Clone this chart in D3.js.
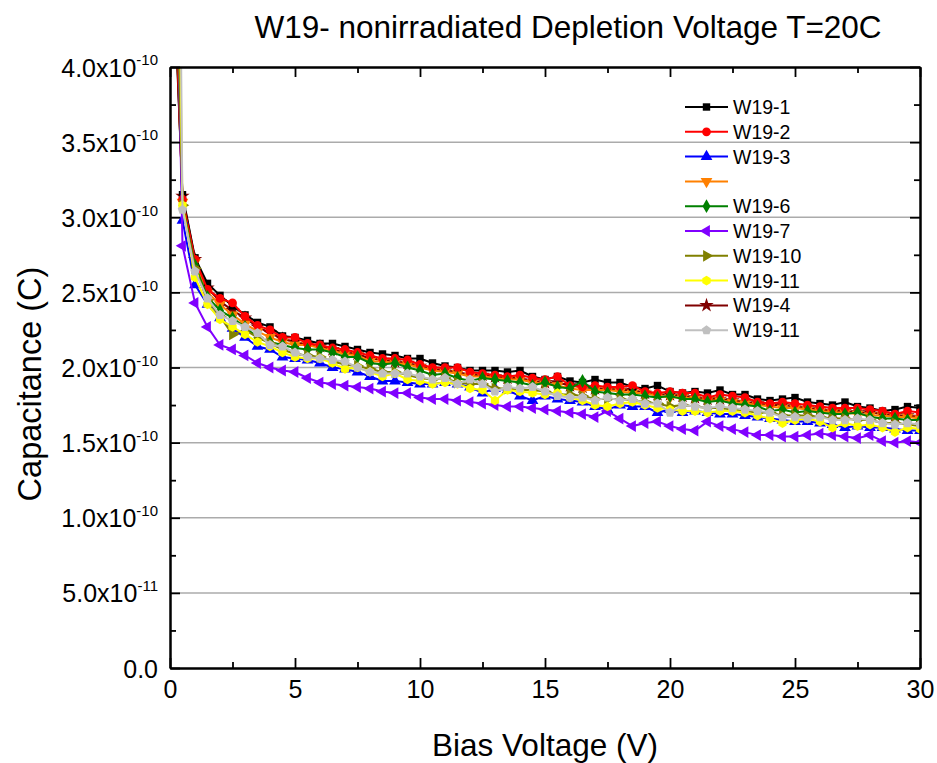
<!DOCTYPE html>
<html>
<head>
<meta charset="utf-8">
<script src="https://cdn.jsdelivr.net/npm/d3@7"></script>
<style>
  body { margin: 0; background: #fff; }
  text { font-family: "Liberation Sans", Arial, sans-serif; fill: #000; }
</style>
</head>
<body>
<div id="chart"></div>
<script>
// bias voltage (V)
const voltages = [0, 0.5, 1, 1.5, 2, 2.5, 3, 3.5, 4, 4.5,
  5, 5.5, 6, 6.5, 7, 7.5, 8, 8.5, 9, 9.5,
  10, 10.5, 11, 11.5, 12, 12.5, 13, 13.5, 14, 14.5,
  15, 15.5, 16, 16.5, 17, 17.5, 18, 18.5, 19, 19.5,
  20, 20.5, 21, 21.5, 22, 22.5, 23, 23.5, 24, 24.5,
  25, 25.5, 26, 26.5, 27, 27.5, 28, 28.5, 29, 29.5,
  30]

// capacitance, in units of 1e-10
const unit = 1e-10
const w19_1 = [5.2, 3.15, 2.73, 2.56, 2.48, 2.41, 2.35, 2.30, 2.27, 2.21,
  2.20, 2.18, 2.16, 2.16, 2.14, 2.12, 2.10, 2.09, 2.08, 2.06,
  2.06, 2.03, 2.01, 2.00, 1.98, 1.98, 1.98, 1.97, 1.98, 1.94,
  1.92, 1.94, 1.91, 1.90, 1.92, 1.90, 1.90, 1.87, 1.86, 1.88,
  1.84, 1.83, 1.84, 1.83, 1.85, 1.82, 1.82, 1.79, 1.78, 1.79,
  1.80, 1.77, 1.76, 1.75, 1.77, 1.74, 1.73, 1.71, 1.72, 1.74,
  1.73]
const w19_2 = [5.4, 3.12, 2.72, 2.52, 2.46, 2.43, 2.34, 2.28, 2.25, 2.20,
  2.20, 2.16, 2.15, 2.13, 2.12, 2.10, 2.08, 2.06, 2.06, 2.05,
  2.02, 2.00, 2.00, 2.00, 1.97, 1.96, 1.95, 1.94, 1.95, 1.93,
  1.92, 1.94, 1.88, 1.87, 1.88, 1.87, 1.87, 1.88, 1.84, 1.83,
  1.84, 1.83, 1.83, 1.80, 1.82, 1.81, 1.80, 1.77, 1.76, 1.77,
  1.76, 1.75, 1.74, 1.73, 1.73, 1.73, 1.72, 1.71, 1.69, 1.71,
  1.70]
const w19_3 = [7.0, 2.98, 2.55, 2.42, 2.33, 2.26, 2.20, 2.14, 2.12, 2.07,
  2.06, 2.05, 2.03, 2.00, 1.99, 1.97, 1.94, 1.91, 1.91, 1.90,
  1.89, 1.89, 1.90, 1.89, 1.87, 1.83, 1.86, 1.85, 1.81, 1.78,
  1.81, 1.79, 1.78, 1.77, 1.74, 1.72, 1.75, 1.74, 1.74, 1.70,
  1.72, 1.70, 1.71, 1.70, 1.69, 1.69, 1.68, 1.67, 1.66, 1.65,
  1.64, 1.64, 1.63, 1.62, 1.60, 1.61, 1.60, 1.60, 1.59, 1.58,
  1.58]
const w19_orange = [5.6, 3.10, 2.70, 2.50, 2.42, 2.35, 2.29, 2.24, 2.20, 2.17,
  2.15, 2.15, 2.13, 2.11, 2.09, 2.08, 2.04, 2.04, 2.03, 2.02,
  2.00, 1.98, 1.97, 1.96, 1.94, 1.94, 1.93, 1.92, 1.92, 1.90,
  1.89, 1.88, 1.86, 1.85, 1.85, 1.85, 1.84, 1.83, 1.83, 1.81,
  1.80, 1.80, 1.79, 1.78, 1.78, 1.77, 1.76, 1.75, 1.74, 1.73,
  1.73, 1.72, 1.71, 1.70, 1.70, 1.69, 1.68, 1.68, 1.67, 1.67,
  1.66]
const w19_6 = [6.0, 3.08, 2.68, 2.47, 2.38, 2.33, 2.27, 2.20, 2.17, 2.15,
  2.13, 2.12, 2.12, 2.10, 2.07, 2.07, 2.03, 2.02, 2.03, 2.00,
  1.98, 1.95, 1.96, 1.93, 1.91, 1.93, 1.92, 1.91, 1.90, 1.88,
  1.90, 1.87, 1.86, 1.91, 1.84, 1.83, 1.82, 1.82, 1.81, 1.80,
  1.81, 1.79, 1.79, 1.77, 1.78, 1.76, 1.75, 1.74, 1.71, 1.72,
  1.70, 1.71, 1.70, 1.69, 1.69, 1.70, 1.67, 1.66, 1.66, 1.65,
  1.65]
const w19_7 = [7.0, 2.81, 2.43, 2.27, 2.15, 2.12, 2.08, 2.03, 2.00, 1.98,
  1.97, 1.93, 1.90, 1.89, 1.88, 1.87, 1.86, 1.84, 1.83, 1.83,
  1.80, 1.79, 1.79, 1.78, 1.77, 1.76, 1.75, 1.74, 1.74, 1.73,
  1.72, 1.71, 1.70, 1.69, 1.67, 1.71, 1.66, 1.61, 1.63, 1.64,
  1.61, 1.59, 1.58, 1.64, 1.61, 1.59, 1.57, 1.55, 1.55, 1.54,
  1.54, 1.55, 1.56, 1.55, 1.54, 1.53, 1.55, 1.51, 1.50, 1.51,
  1.50]
const w19_10 = [6.5, 3.08, 2.66, 2.45, 2.34, 2.22, 2.25, 2.20, 2.16, 2.12,
  2.09, 2.08, 2.07, 2.04, 2.02, 2.01, 1.99, 1.97, 1.97, 1.95,
  1.93, 1.92, 1.93, 1.90, 1.89, 1.89, 1.86, 1.86, 1.85, 1.85,
  1.84, 1.82, 1.82, 1.81, 1.79, 1.79, 1.79, 1.78, 1.77, 1.76,
  1.74, 1.75, 1.74, 1.73, 1.73, 1.72, 1.71, 1.70, 1.70, 1.68,
  1.68, 1.68, 1.67, 1.66, 1.66, 1.65, 1.65, 1.63, 1.63, 1.62,
  1.61]
const w19_11 = [9.0, 3.08, 2.60, 2.42, 2.32, 2.27, 2.22, 2.17, 2.14, 2.10,
  2.07, 2.06, 2.06, 2.03, 1.99, 2.00, 1.97, 1.94, 1.96, 1.92,
  1.91, 1.89, 1.90, 1.89, 1.86, 1.85, 1.78, 1.85, 1.84, 1.83,
  1.82, 1.83, 1.80, 1.78, 1.75, 1.74, 1.76, 1.77, 1.75, 1.73,
  1.72, 1.71, 1.71, 1.70, 1.71, 1.71, 1.70, 1.68, 1.66, 1.63,
  1.65, 1.66, 1.64, 1.60, 1.63, 1.61, 1.62, 1.60, 1.57, 1.60,
  1.59]
const w19_4 = [5.3, 3.14, 2.72, 2.53, 2.44, 2.38, 2.33, 2.27, 2.23, 2.19,
  2.17, 2.15, 2.14, 2.12, 2.10, 2.09, 2.06, 2.05, 2.04, 2.03,
  2.01, 1.99, 1.98, 1.97, 1.95, 1.95, 1.94, 1.93, 1.93, 1.91,
  1.90, 1.90, 1.88, 1.87, 1.86, 1.86, 1.85, 1.85, 1.83, 1.82,
  1.82, 1.81, 1.80, 1.79, 1.79, 1.78, 1.77, 1.76, 1.75, 1.75,
  1.74, 1.73, 1.72, 1.71, 1.71, 1.70, 1.70, 1.69, 1.68, 1.68,
  1.67]
const w19_11b = [12.0, 3.05, 2.64, 2.46, 2.35, 2.31, 2.27, 2.23, 2.15, 2.14,
  2.10, 2.07, 2.06, 2.05, 2.04, 2.00, 1.97, 1.96, 1.96, 1.96,
  1.94, 1.92, 1.93, 1.89, 1.92, 1.89, 1.84, 1.87, 1.86, 1.87,
  1.84, 1.81, 1.80, 1.80, 1.78, 1.80, 1.78, 1.79, 1.76, 1.76,
  1.70, 1.75, 1.74, 1.73, 1.74, 1.73, 1.72, 1.71, 1.70, 1.67,
  1.67, 1.66, 1.67, 1.65, 1.65, 1.66, 1.65, 1.63, 1.62, 1.63,
  1.62]

const seriesLabels = ["W19-1", "W19-2", "W19-3", "", "W19-6", "W19-7", "W19-10", "W19-11", "W19-4", "W19-11"]
const seriesValues = [w19_1, w19_2, w19_3, w19_orange, w19_6, w19_7, w19_10, w19_11, w19_4, w19_11b]
const seriesColors = ["#000000", "#ff0000", "#0000ff", "#ff8000", "#008000", "#8000ff", "#808000", "#ffff00", "#800000", "#c0c0c0"]
const drawOrder = [8, 3, 0, 1, 2, 4, 5, 6, 7, 9]

const xTicks = [0, 5, 10, 15, 20, 25, 30]
const xMinorTicks = [2.5, 7.5, 12.5, 17.5, 22.5, 27.5]
const yTicks = [0, 0.5e-10, 1.0e-10, 1.5e-10, 2.0e-10, 2.5e-10, 3.0e-10, 3.5e-10, 4.0e-10]
const yMinorTicks = [0.25e-10, 0.75e-10, 1.25e-10, 1.75e-10, 2.25e-10, 2.75e-10, 3.25e-10, 3.75e-10]
const yTickMantissa = ["0.0", "5.0", "1.0", "1.5", "2.0", "2.5", "3.0", "3.5", "4.0"]
const yTickExponent = ["", "-11", "-10", "-10", "-10", "-10", "-10", "-10", "-10"]

const canvas = { width: 937, height: 763, margin: { top: 67, bottom: 95, left: 170, right: 17 } }

// custom Origin-like symbols
const symbolPolygon = n => ({
  draw(ctx, size) {
    const r = Math.sqrt(size / (n / 2 * Math.sin(2 * Math.PI / n)))
    for (let i = 0; i < n; i++) {
      const a = -Math.PI / 2 + i * 2 * Math.PI / n
      i ? ctx.lineTo(r * Math.cos(a), r * Math.sin(a)) : ctx.moveTo(r * Math.cos(a), r * Math.sin(a))
    }
    ctx.closePath()
  }
})
const markers = [
  { type: d3.symbolSquare, size: 55, rot: 0 },
  { type: d3.symbolCircle, size: 60, rot: 0 },
  { type: d3.symbolTriangle, size: 60, rot: 0 },
  { type: d3.symbolTriangle, size: 60, rot: 180 },
  { type: d3.symbolDiamond, size: 55, rot: 0 },
  { type: d3.symbolTriangle, size: 60, rot: -90 },
  { type: d3.symbolTriangle, size: 60, rot: 90 },
  { type: symbolPolygon(6), size: 60, rot: 0 },
  { type: d3.symbolStar, size: 65, rot: 0 },
  { type: symbolPolygon(5), size: 60, rot: 0 }
]

const svg = d3.select("#chart").append("svg")
  .attr("width", canvas.width).attr("height", canvas.height)

const x = d3.scaleLinear().domain([0, 30])
  .range([canvas.margin.left, canvas.width - canvas.margin.right])
const y = d3.scaleLinear().domain([0, 4e-10])
  .range([canvas.height - canvas.margin.bottom, canvas.margin.top])

const x0 = x.range()[0], x1 = x.range()[1], y0 = y.range()[0], y1 = y.range()[1]

// grid
svg.append("g").selectAll("line").data(yTicks.slice(1, -1)).join("line")
  .attr("x1", x0).attr("x2", x1)
  .attr("y1", d => y(d)).attr("y2", d => y(d))
  .attr("stroke", "#ababab").attr("stroke-width", 1.5)

// series
svg.append("clipPath").attr("id", "clip").append("rect")
  .attr("x", x0).attr("y", y1).attr("width", x1 - x0).attr("height", y0 - y1)

const plot = svg.append("g").attr("clip-path", "url(#clip)")
const line = d3.line().x((d, i) => x(voltages[i])).y(d => y(d * unit))

drawOrder.forEach(k => {
  const g = plot.append("g")
  g.append("path").datum(seriesValues[k]).attr("fill", "none")
    .attr("stroke", seriesColors[k]).attr("stroke-width", 2).attr("d", line)
  const m = markers[k]
  g.selectAll("path.pt").data(seriesValues[k]).join("path").attr("class", "pt")
    .attr("transform", (d, i) => `translate(${x(voltages[i])},${y(d * unit)}) rotate(${m.rot})`)
    .attr("d", d3.symbol(m.type, m.size))
    .attr("fill", seriesColors[k])
})

// axes
function styleAxis(g) {
  g.select(".domain").attr("stroke", "#000").attr("stroke-width", 2)
  g.selectAll(".tick line").attr("stroke", "#000").attr("stroke-width", 1.8)
}

svg.append("g").attr("transform", `translate(0,${y0})`)
  .call(d3.axisBottom(x).tickValues(xMinorTicks).tickSize(-6).tickSizeOuter(0).tickFormat(""))
  .call(styleAxis)
svg.append("g").attr("transform", `translate(0,${y0})`)
  .call(d3.axisBottom(x).tickValues(xTicks).tickSize(-10).tickSizeOuter(0).tickPadding(12))
  .call(styleAxis)
  .call(g => g.selectAll("text").attr("font-size", 25).attr("font-family", "Liberation Sans, Arial, sans-serif"))

svg.append("g").attr("transform", `translate(0,${y1})`)
  .call(d3.axisTop(x).tickValues(xMinorTicks).tickSize(-6).tickSizeOuter(0).tickFormat(""))
  .call(styleAxis)
svg.append("g").attr("transform", `translate(0,${y1})`)
  .call(d3.axisTop(x).tickValues(xTicks).tickSize(-10).tickSizeOuter(0).tickFormat(""))
  .call(styleAxis)

svg.append("g").attr("transform", `translate(${x0},0)`)
  .call(d3.axisLeft(y).tickValues(yMinorTicks).tickSize(-6).tickSizeOuter(0).tickFormat(""))
  .call(styleAxis)
svg.append("g").attr("transform", `translate(${x0},0)`)
  .call(d3.axisLeft(y).tickValues(yTicks).tickSize(-10).tickSizeOuter(0).tickPadding(12))
  .call(styleAxis)
  .call(g => g.selectAll("text").each(function (d, i) {
    const t = d3.select(this).text(null).attr("font-size", 25)
      .attr("font-family", "Liberation Sans, Arial, sans-serif").attr("dy", "0.36em")
    if (yTickExponent[i]) {
      t.append("tspan").text(yTickMantissa[i] + "x10")
      t.append("tspan").text(yTickExponent[i]).attr("font-size", 15).attr("dy", "-0.75em")
    } else {
      t.append("tspan").text(yTickMantissa[i])
    }
  }))

svg.append("g").attr("transform", `translate(${x1},0)`)
  .call(d3.axisRight(y).tickValues(yMinorTicks).tickSize(-6).tickSizeOuter(0).tickFormat(""))
  .call(styleAxis)
svg.append("g").attr("transform", `translate(${x1},0)`)
  .call(d3.axisRight(y).tickValues(yTicks).tickSize(-10).tickSizeOuter(0).tickFormat(""))
  .call(styleAxis)

// titles
svg.append("text").attr("x", 568).attr("y", 38).attr("text-anchor", "middle")
  .attr("font-size", 31.5).text("W19- nonirradiated Depletion Voltage T=20C")
svg.append("text").attr("x", (x0 + x1) / 2).attr("y", 756).attr("text-anchor", "middle")
  .attr("font-size", 31.5).text("Bias Voltage (V)")
svg.append("text").attr("transform", "translate(41,384) rotate(-90)").attr("text-anchor", "middle")
  .attr("font-size", 32.5).text("Capacitance (C)")

// legend
const legend = svg.append("g")
seriesLabels.forEach((lab, k) => {
  const ly = 107 + k * 24.8
  legend.append("line").attr("x1", 685).attr("x2", 728).attr("y1", ly).attr("y2", ly)
    .attr("stroke", seriesColors[k]).attr("stroke-width", 2)
  legend.append("path").attr("d", d3.symbol(markers[k].type, markers[k].size))
    .attr("transform", `translate(706.5,${ly}) rotate(${markers[k].rot})`)
    .attr("fill", seriesColors[k])
  legend.append("text").attr("x", 733).attr("y", ly + 7).attr("font-size", 19.5).text(lab)
})
</script>
</body>
</html>
